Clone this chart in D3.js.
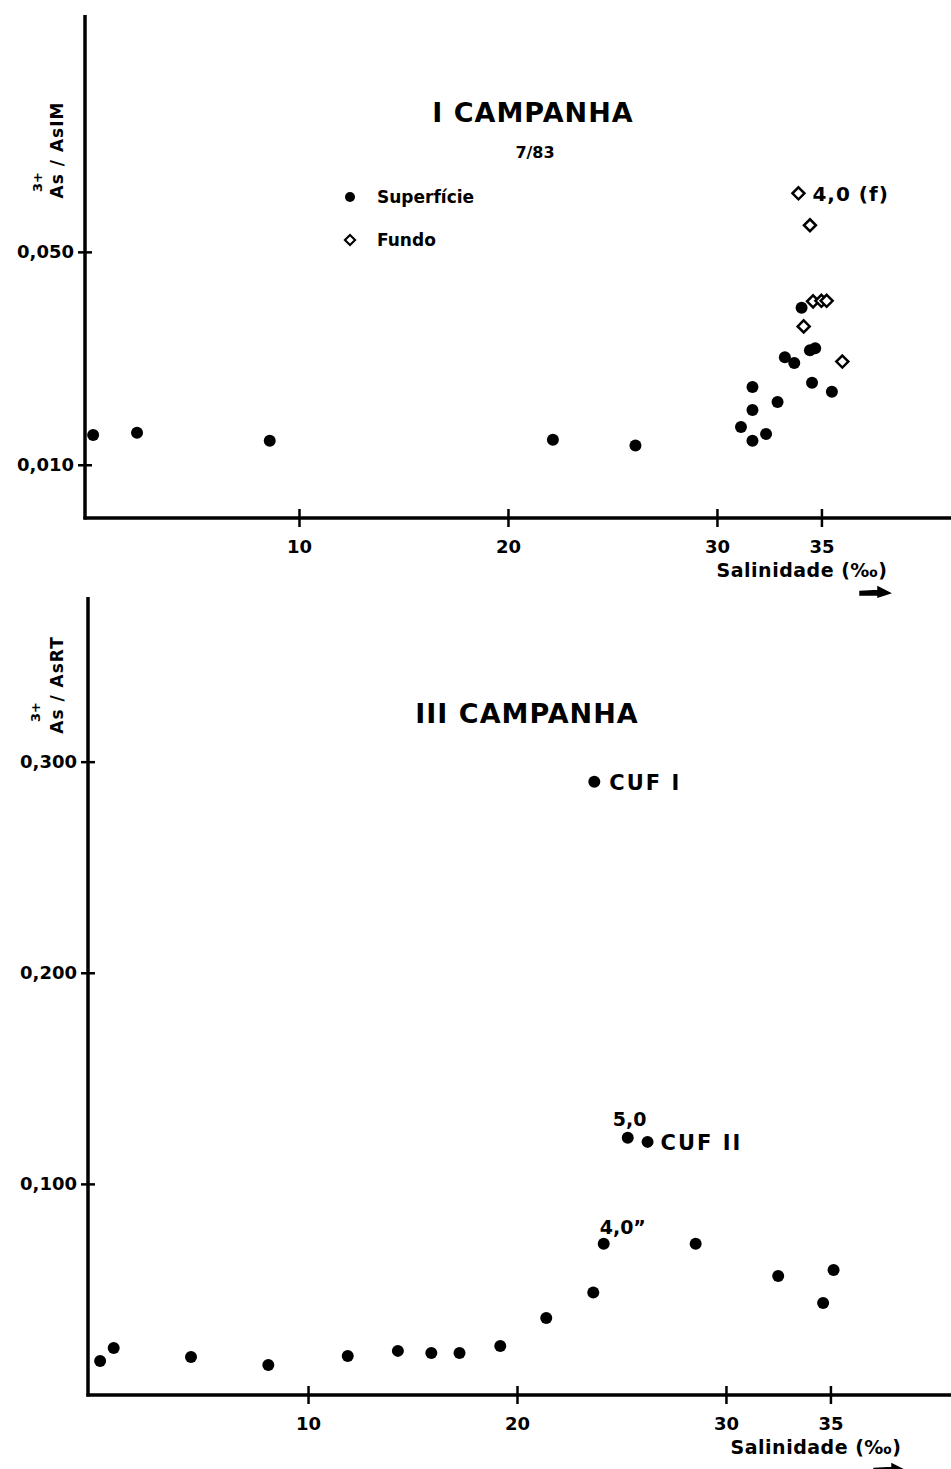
<!DOCTYPE html>
<html>
<head>
<meta charset="utf-8">
<script src="https://cdn.jsdelivr.net/npm/d3@7"></script>
<style>
  html, body { margin: 0; padding: 0; background: #fff; }
  svg text { font-family: "DejaVu Sans", sans-serif; font-weight: bold; fill: #000; }
</style>
</head>
<body>
<svg id="chart" width="951" height="1469"></svg>
<script>
// ---- I Campanha (7/83): As3+/AsIM vs salinity ----
const topSurfSal   = [0.15, 2.25, 8.6, 22.15, 26.1, 31.15, 31.7, 32.35, 31.7, 32.9, 31.7, 34.55, 35.5, 33.25, 33.7, 34.45, 34.7, 34.05];
const topSurfRatio = [0.0156, 0.0160, 0.0145, 0.0147, 0.0136, 0.0171, 0.0145, 0.0158, 0.0203, 0.0218, 0.0246, 0.0254, 0.0237, 0.0302, 0.0291, 0.0315, 0.0319, 0.0395];
const topBotSal    = [33.9, 34.45, 34.6, 35.0, 35.25, 34.15, 36.0];
const topBotRatio  = [0.0610, 0.0550, 0.0407, 0.0408, 0.0408, 0.0360, 0.0294];
const topYTicks    = [0.010, 0.050];

// ---- III Campanha: As3+/AsRT vs salinity ----
const botSal   = [0.05, 0.7, 4.4, 8.1, 11.9, 14.3, 15.9, 17.25, 19.2, 21.4, 23.65, 24.15, 28.55, 32.5, 34.65, 35.15, 25.3, 26.25, 23.7];
const botRatio = [0.0161, 0.0223, 0.0180, 0.0142, 0.0185, 0.0209, 0.0199, 0.0199, 0.0232, 0.0365, 0.0485, 0.0716, 0.0716, 0.0564, 0.0436, 0.0592, 0.1218, 0.1199, 0.2905];
const botYTicks = [0.100, 0.200, 0.300];

const xTicks = [10, 20, 30, 35];
const fmt = v => d3.format(".3f")(v).replace(".", ",");

const svg = d3.select("#chart");

function axisSet(g, x, y, yTicks, axisX, axisY, xEnd) {
  // vertical axis
  const yAx = g.append("g").attr("transform", `translate(${axisX},0)`)
    .call(d3.axisLeft(y).tickValues(yTicks).tickFormat(fmt).tickSize(7).tickPadding(4));
  yAx.select(".domain").remove();
  yAx.selectAll(".tick line").attr("x1", -7).attr("x2", 7).attr("stroke", "#000").attr("stroke-width", 2.5);
  yAx.selectAll(".tick text").attr("font-size", 18).attr("font-family", "DejaVu Sans").attr("font-weight", "bold").attr("fill", "#000");
  g.append("line").attr("x1", axisX).attr("x2", axisX)
    .attr("y1", y.range()[1]).attr("y2", axisY + 1.5)
    .attr("stroke", "#000").attr("stroke-width", 3.5);

  // horizontal axis
  const xAx = g.append("g").attr("transform", `translate(0,${axisY})`)
    .call(d3.axisBottom(x).tickValues(xTicks).tickSize(9).tickPadding(13));
  xAx.select(".domain").remove();
  xAx.selectAll(".tick line").attr("y1", -9).attr("y2", 9).attr("stroke", "#000").attr("stroke-width", 2.5);
  xAx.selectAll(".tick text").attr("font-size", 18).attr("font-family", "DejaVu Sans").attr("font-weight", "bold").attr("fill", "#000");
  g.append("line").attr("x1", axisX - 1.5).attr("x2", xEnd)
    .attr("y1", axisY).attr("y2", axisY)
    .attr("stroke", "#000").attr("stroke-width", 3.5);
}

function salinityTitle(g, cx, cy) {
  g.append("text").attr("x", cx).attr("y", cy).attr("text-anchor", "middle")
    .attr("font-size", 19).attr("letter-spacing", 0.5).text("Salinidade (‰)");
  const ay = cy + 16;
  g.append("path")
    .attr("d", `M${cx + 58},${ay - 1.5} L${cx + 76},${ay - 2.5} L${cx + 76},${ay - 6} L${cx + 88},${ay} L${cx + 76},${ay + 4} L${cx + 76},${ay + 2} L${cx + 58},${ay + 2} Z`)
    .attr("fill", "#000").attr("stroke", "#000").attr("stroke-width", 1.5);
}

function yLabel(g, cx, cy, main, supX, supY) {
  g.append("text").attr("transform", `translate(${cx},${cy}) rotate(-90)`)
    .attr("text-anchor", "middle").attr("font-size", 17).attr("letter-spacing", 1).text(main);
  g.append("text").attr("transform", `translate(${supX},${supY}) rotate(-90)`)
    .attr("text-anchor", "middle").attr("font-size", 13).text("3+");
}

function diamond(sel) {
  return sel.append("path").attr("d", "M0,-6 L6,0 L0,6 L-6,0 Z")
    .attr("fill", "#fff").attr("stroke", "#000").attr("stroke-width", 2.5);
}

// ================= top panel =================
{
  const g = svg.append("g");
  const x = d3.scaleLinear().domain([-0.24, 41.2]).range([85, 951]);
  const y = d3.scaleLinear().domain([0, 0.0945]).range([518, 15]);
  axisSet(g, x, y, topYTicks, 85, 518, 951);

  g.append("text").attr("x", 533).attr("y", 122).attr("text-anchor", "middle")
    .attr("font-size", 27).attr("letter-spacing", 1).text("I CAMPANHA");
  g.append("text").attr("x", 535).attr("y", 158).attr("text-anchor", "middle")
    .attr("font-size", 16).text("7/83");

  // legend
  g.append("circle").attr("cx", 350).attr("cy", 197).attr("r", 5);
  g.append("text").attr("x", 377).attr("y", 203).attr("font-size", 17).text("Superfície");
  diamond(g.append("g").attr("transform", "translate(350,240) scale(0.85)"));
  g.append("text").attr("x", 377).attr("y", 246).attr("font-size", 17).text("Fundo");

  const surf = topSurfSal.map((s, i) => ({ s, r: topSurfRatio[i] }));
  const bot  = topBotSal.map((s, i) => ({ s, r: topBotRatio[i] }));

  g.selectAll("circle.surf").data(surf).enter().append("circle")
    .attr("class", "surf").attr("cx", d => x(d.s)).attr("cy", d => y(d.r)).attr("r", 6);
  g.selectAll("g.bot").data(bot).enter().append("g").attr("class", "bot")
    .attr("transform", d => `translate(${x(d.s)},${y(d.r)})`)
    .each(function () { diamond(d3.select(this)); });

  g.append("text").attr("x", x(topBotSal[0]) + 14).attr("y", y(topBotRatio[0]) + 8)
    .attr("font-size", 20).attr("letter-spacing", 1).text("4,0 (f)");

  yLabel(g, 63, 150, "As / AsIM", 42, 182);
  salinityTitle(g, 802, 577);
}

// ================= bottom panel =================
{
  const g = svg.append("g");
  const x = d3.scaleLinear().domain([-0.53, 40.77]).range([88, 951]);
  const y = d3.scaleLinear().domain([0, 0.378]).range([1395, 597]);
  axisSet(g, x, y, botYTicks, 88, 1395, 951);

  g.append("text").attr("x", 527).attr("y", 723).attr("text-anchor", "middle")
    .attr("font-size", 27).attr("letter-spacing", 1).text("III CAMPANHA");

  const pts = botSal.map((s, i) => ({ s, r: botRatio[i] }));
  g.selectAll("circle.pt").data(pts).enter().append("circle")
    .attr("class", "pt").attr("cx", d => x(d.s)).attr("cy", d => y(d.r)).attr("r", 6);

  const n = botSal.length;
  // CUF I
  g.append("text").attr("x", x(botSal[n - 1]) + 15).attr("y", y(botRatio[n - 1]) + 8)
    .attr("font-size", 21).attr("letter-spacing", 2).text("CUF I");
  // CUF II
  g.append("text").attr("x", x(botSal[n - 2]) + 13).attr("y", y(botRatio[n - 2]) + 8)
    .attr("font-size", 21).attr("letter-spacing", 2).text("CUF II");
  // 5,0
  g.append("text").attr("x", x(botSal[n - 3]) - 15).attr("y", y(botRatio[n - 3]) - 12)
    .attr("font-size", 19).text("5,0");
  // 4,0"
  g.append("text").attr("x", x(botSal[11]) - 4).attr("y", y(botRatio[11]) - 10)
    .attr("font-size", 19).text("4,0\u201D");

  yLabel(g, 63, 685, "As / AsRT", 40, 712);
  salinityTitle(g, 816, 1454);
}
</script>
</body>
</html>
